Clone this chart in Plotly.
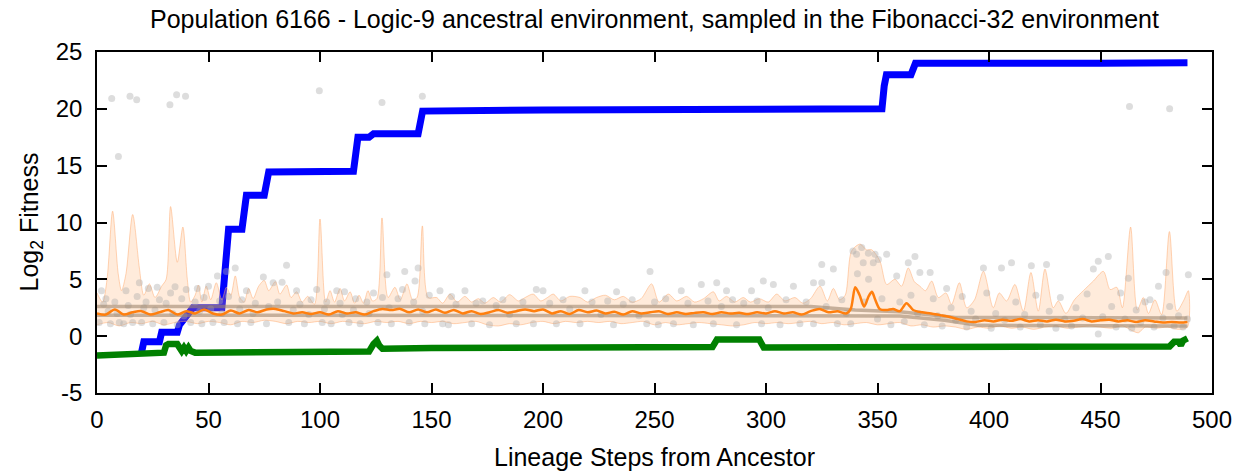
import plotly.graph_objects as go

# ---------------- data ----------------
blue_x = [19, 20, 21, 28, 29, 36, 37, 38.7, 41, 42.4, 43, 56, 57, 58, 59, 65, 66, 67, 75, 76, 77,
          115, 116, 117, 122, 124, 144, 145, 146, 200, 300, 352, 353, 354, 365, 366, 367, 450, 489]
blue_y = [-1.4, -1.4, -0.5, -0.5, 0.35, 0.35, 1.0, 1.5, 1.9, 2.35, 2.5, 2.5, 5.2, 8.5, 9.4, 9.4, 11.0, 12.4, 12.4, 13.5, 14.45,
          14.5, 16.5, 17.5, 17.5, 17.8, 17.8, 19.0, 19.8, 19.9, 20.0, 20.0, 22.0, 23.0, 23.0, 23.7, 24.0, 24.0, 24.05]

green_x = [0, 5, 10, 20, 30, 31, 32, 36, 37, 38, 39, 40, 41, 42, 44, 60, 80, 100, 122, 124, 125.5, 126.5, 128,
           150, 180, 220, 260, 276, 278, 297, 299, 350, 400, 450, 481, 483, 485, 486, 487, 489]
green_y = [-1.7, -1.65, -1.55, -1.5, -1.45, -0.8, -0.7, -0.7, -0.9, -1.3, -1.0, -1.3, -1.0, -1.3, -1.45, -1.45, -1.45, -1.4, -1.35, -0.7, -0.4, -0.8, -1.1,
           -1.05, -1.05, -1.0, -1.0, -0.95, -0.3, -0.3, -1.0, -1.0, -1.0, -1.0, -0.9, -0.5, -0.5, -0.8, -0.4, -0.2]

median_x = list(range(0, 332, 4)) + [332, 336, 338, 340, 342, 344, 346, 347.5, 349, 351, 354, 357, 360, 363, 366, 370,
                                     374, 378, 382, 386, 390, 394, 398, 402, 406, 410, 414, 418, 422, 426, 430, 434,
                                     438, 442, 446, 450, 454, 458, 462, 466, 470, 474, 478, 482, 486, 489]
median_y = [2.0, 1.9, 2.35, 1.9, 2.1, 2.2, 1.9, 2.1, 2.3, 1.9, 2.2, 2.0, 2.35, 2.0, 1.9, 2.25, 2.0, 2.3, 2.1, 2.35,
            2.4, 2.2, 2.0, 2.1, 1.95, 2.1, 1.9, 2.2, 2.0, 2.1, 1.9, 2.2, 2.4, 2.3, 2.4, 2.1, 2.35, 2.1, 2.35, 2.05,
            2.3, 2.0, 2.2, 1.95, 2.1, 2.3, 2.05, 2.2, 2.35, 2.2, 2.35, 2.0, 2.2, 1.95, 2.3, 2.1, 2.25, 2.0, 2.15, 1.9,
            2.2, 2.0, 2.1, 2.2, 1.95, 2.1, 1.95, 2.05, 2.1, 1.95, 2.1, 2.0, 2.05, 1.95, 2.1, 2.0, 2.2, 2.0, 2.1, 1.9,
            2.2, 2.4, 2.1,
            2.2, 2.0, 2.4, 4.3, 3.6, 2.6, 3.5, 3.9, 3.2, 2.4, 2.3, 2.4, 2.2, 2.9, 2.3, 2.1,
            2.0, 1.85, 1.7, 1.5, 1.3, 1.25, 1.4, 1.3, 1.45, 1.35, 1.5, 1.3, 1.4, 1.3, 1.45, 1.3,
            1.35, 1.5, 1.3, 1.4, 1.45, 1.3, 1.4, 1.25, 1.4, 1.3, 1.2, 1.25, 1.2, 1.25]

band_upper_x = [0, 2.5, 4.5, 7, 9.5, 11, 13, 16, 19, 21, 23.5, 26, 29, 31, 33, 36, 38.5, 40.5, 42, 44, 45.5, 47, 49, 51,
                53.5, 56, 58, 60, 62, 64, 66, 68, 70, 72.5, 75, 77, 80, 82, 85, 87, 89.5, 92, 94.5, 97.5, 100, 102.5,
                104.5, 106.5, 109, 111, 113.5, 115.5, 117.5, 119.5, 121.5, 123.5, 125.5, 127.8, 130.5, 133.6, 136, 139,
                141.5, 143.5, 145.9, 148.5, 152.3, 155, 158.3, 161.5, 165, 168, 171, 174, 177.7, 181, 185, 189, 192,
                195.6, 199, 202, 204.6, 208, 212, 216.6, 220, 224, 228, 232, 236, 240, 244, 248.7, 252, 256.2, 260,
                264.4, 268, 272, 276.4, 279, 282.3, 286, 289.8, 293, 297, 301, 304.8, 308.5, 313, 316.5, 320, 324.2,
                327.5, 330.2, 333, 335.5, 338.4, 342.2, 345, 347.4, 351.1, 354.1, 357.8, 360.8, 363.8, 366.5, 369,
                371.5, 374.3, 377.3, 380.7, 383.2, 386.7, 390, 393.5, 397.5, 401.9, 404.6, 407.9, 411.6, 415.4, 418.8,
                422.1, 425.1, 428.8, 431.1, 434.5, 438.3, 442.3, 446.8, 451.3, 454.3, 457.3, 459.8, 463.5, 466.5,
                469.2, 471.5, 474.4, 477.4, 480.9, 484.2, 487.2, 489.4]
band_upper_y = [3.8, 3.0, 5.0, 11.0, 5.5, 4.0, 5.5, 10.7, 6.0, 3.6, 4.6, 3.4, 4.4, 5.0, 11.4, 6.5, 9.6, 5.0, 3.0, 3.6,
                4.5, 3.0, 4.4, 3.2, 4.7, 3.2, 4.3, 3.6, 5.3, 3.4, 3.0, 4.2, 3.3, 4.4, 4.9, 4.0, 4.8, 3.7, 4.5, 3.4,
                3.9, 3.0, 3.5, 2.8, 10.3, 3.0, 4.0, 3.0, 4.2, 3.1, 3.9, 2.9, 3.6, 2.9, 4.0, 3.1, 3.3, 10.4, 3.4, 4.3,
                3.2, 4.6, 3.2, 3.4, 9.7, 3.4, 3.4, 2.9, 3.7, 3.0, 3.5, 3.0, 3.3, 2.9, 3.4, 3.0, 3.65, 3.1, 3.4, 3.7,
                3.1, 3.4, 3.7, 3.1, 3.5, 3.4, 3.0, 3.4, 3.6, 3.2, 3.5, 3.0, 3.3, 4.6, 3.0, 3.7, 3.1, 3.5, 3.0, 3.3,
                3.9, 3.1, 3.5, 3.0, 3.4, 3.0, 3.3, 3.0, 3.7, 3.1, 3.4, 2.9, 3.3, 4.4, 3.1, 4.2, 3.2, 3.6, 7.5, 8.1,
                7.6, 7.6, 6.6, 4.55, 5.0, 4.4, 6.0, 4.8, 4.4, 4.0, 4.85, 3.4, 3.8, 2.8, 4.7, 2.5, 3.2, 5.7, 2.5, 3.8,
                3.1, 4.55, 2.2, 5.6, 2.2, 5.9, 2.5, 3.1, 2.0, 3.2, 4.0, 4.85, 5.7, 4.1, 4.3, 2.5, 9.6, 2.3, 3.4, 2.0,
                3.2, 1.9, 9.2, 2.2, 3.1, 4.0]

band_lower_x = [0, 5, 10, 15, 20, 25, 30, 35, 40, 45, 50, 55, 60, 65, 70, 75, 80, 85, 90, 95, 100, 105, 110, 115, 120,
                125, 130, 135, 140, 145, 150, 155, 160, 165, 170, 175, 180, 185, 190, 195, 200, 205, 210, 215, 220,
                225, 230, 235, 240, 245, 250, 255, 260, 265, 270, 275, 280, 285, 290, 295, 300, 305, 310, 315, 320,
                325, 330, 335, 340, 345, 350, 355, 360, 365, 370, 375, 380, 385, 390, 395, 400, 405, 410, 415, 420,
                425, 430, 435, 440, 445, 450, 455, 460, 464, 467, 470, 475, 480, 485, 489]
band_lower_y = [1.0, 1.2, 0.9, 1.2, 1.1, 1.3, 1.0, 1.2, 1.3, 1.1, 1.3, 1.2, 1.0, 1.3, 1.2, 1.4, 1.3, 1.1, 1.3, 1.2,
                1.3, 1.1, 1.3, 1.2, 1.1, 1.3, 1.2, 1.3, 1.1, 1.3, 1.2, 1.3, 1.1, 1.2, 1.3, 1.0, 0.9, 1.1, 1.0, 1.2,
                1.3, 1.1, 1.3, 1.2, 1.3, 1.2, 1.3, 1.1, 1.2, 1.3, 1.0, 1.2, 1.0, 1.1, 1.2, 1.1, 1.0, 0.9, 1.0, 1.2,
                1.1, 1.2, 1.1, 1.2, 1.3, 1.1, 1.2, 1.0, 1.1, 1.2, 1.0, 1.1, 1.2, 0.9, 1.0, 0.8, 0.9, 0.8, 0.6, 0.8,
                0.7, 0.9, 0.7, 0.8, 0.6, 0.8, 0.9, 0.7, 0.8, 0.9, 0.8, 0.7, 0.9, 0.5, 0.3, 0.8, 0.7, 0.8, 0.6, 0.8]

gray_hi_x = [0, 320, 340, 360, 385, 489]
gray_hi_y = [2.6, 2.6, 2.3, 2.15, 1.65, 1.6]
gray_lo_x = [0, 330, 360, 380, 395, 489]
gray_lo_y = [1.85, 1.85, 1.78, 1.4, 0.95, 0.9]

dots_x = [1, 2, 3, 4, 5, 6, 8, 9, 10, 12, 13, 14, 15, 16, 18, 19, 20, 21, 22, 23, 25, 26, 27, 28, 30, 31, 33, 34, 35,
          36, 38, 39, 40, 42, 44, 45, 46, 47, 48, 50, 51, 52, 54, 55, 56, 57, 58, 59,
          62, 63, 64, 65, 67, 69, 70, 71, 74.6, 76, 77, 79, 81, 83, 85, 86, 88, 89.5, 91, 93, 95, 96, 98.5, 101, 102,
          103, 105, 107.5, 109, 110, 111, 113, 115, 116, 118, 121, 122, 124, 126, 128, 130, 131, 132, 135, 137, 138,
          140, 142, 142.6, 144, 146, 147, 149,
          153.8, 155, 157.6, 159, 161, 165, 168, 170, 173, 176, 179, 182, 185, 188, 191, 195.7, 197, 200, 203, 206,
          209, 212, 216.6, 218.8, 222, 226, 229, 231.6, 233, 236, 240, 243, 246.5, 248, 250, 251.7, 255, 258.5, 262,
          265, 267.4, 271, 274, 276.4, 277.9, 280, 282.3, 285, 286.8, 290, 293.5, 296, 298, 298.8, 301, 303.3, 306.3,
          309, 312.3, 315.2, 318, 321.3, 321.3, 325, 325, 327, 330.2,
          332, 334, 336, 339, 340.6, 342.9, 343.6, 345.9, 348.1, 348.9, 350.4, 354.1, 341, 346, 344, 338, 350, 352,
          356, 358.6, 360, 362, 363.8, 365, 366.8, 368, 369, 371, 373.6, 375, 377, 379, 381, 383, 385, 388, 390, 392,
          394, 397.5, 399, 401, 403, 405.6, 407, 410.1, 412, 414, 416, 419, 421, 423, 425.8, 427, 430, 432, 434, 437,
          439, 442, 444, 446.8, 449, 449, 451, 453.5, 455, 457, 459, 461, 462.5, 464, 466, 468, 470, 472.2, 474, 476,
          478, 479.4, 481, 483, 485, 487, 489.4, 489,
          6.6, 14.8, 17.8, 32.7, 35.7, 39.7, 9.6, 99.7, 127.8, 145.9, 463, 481]
dots_y = [1.2, 4.0, 2.8, 3.3, 2.2, 1.1, 3.0, 2.0, 1.2, 1.1, 4.0, 2.7, 1.9, 1.2, 3.5, 4.7, 1.2, 2.5, 3.0, 4.2, 1.1, 2.3,
          4.3, 3.2, 1.2, 2.9, 3.8, 2.0, 4.35, 1.0, 3.3, 1.8, 4.1, 1.2, 3.0, 4.2, 2.2, 1.1, 3.4, 4.4, 2.4, 1.2, 5.3,
          3.1, 2.0, 1.2, 5.7, 3.5,
          6.0, 1.1, 2.4, 3.2, 4.0, 1.2, 2.0, 2.9, 5.2, 1.1, 2.6, 4.7, 3.0, 4.75, 6.25, 1.2, 2.3, 4.0, 2.8, 1.1, 1.9,
          3.2, 4.1, 1.2, 2.4, 3.0, 1.1, 4.0, 2.9, 1.9, 3.9, 1.2, 2.3, 3.3, 1.1, 3.0, 2.0, 3.8, 1.2, 3.4, 5.4, 2.5,
          1.1, 3.3, 4.1, 5.7, 1.2, 3.0, 4.85, 6.0, 2.2, 1.1, 3.6,
          4.0, 1.1, 1.0, 3.5, 2.8, 4.0, 1.1, 2.9, 3.1, 1.0, 2.7, 3.2, 1.9, 1.1, 3.0, 1.1, 4.1, 4.0, 2.9, 1.1, 3.2,
          2.4, 1.1, 4.0, 3.0, 1.9, 3.1, 1.0, 3.9, 2.8, 3.2, 1.8, 1.1, 5.7, 3.0, 1.0, 3.3, 1.1, 4.0, 2.9, 1.0, 4.55,
          3.1, 1.1, 4.7, 2.6, 4.0, 3.2, 1.0, 2.9, 4.0, 3.1, 1.1, 4.85, 2.5, 4.55, 1.0, 3.2, 4.4, 1.1, 3.0, 4.7, 1.1,
          6.3, 4.7, 2.6, 5.9,
          1.1, 3.2, 2.0, 7.5, 7.2, 7.8, 6.45, 7.3, 6.45, 7.2, 6.75, 7.2, 5.5, 5.0, 3.0, 1.1, 1.5, 3.3, 1.0, 5.3, 3.0,
          1.3, 6.45, 3.6, 7.0, 2.0, 5.6, 1.0, 5.6, 3.3, 1.8, 0.9, 4.2, 2.5, 1.4, 3.5, 0.8, 2.2, 1.5, 6.0, 3.8, 0.7,
          2.0, 6.0, 1.4, 6.45, 3.0, 0.8, 1.9, 6.2, 3.6, 1.0, 6.3, 2.2, 0.7, 3.4, 1.5, 0.9, 2.5, 1.6, 3.7, 5.9, 6.6,
          0.2, 1.7, 7.0, 2.6, 0.8, 3.8, 1.5, 5.1, 0.7, 2.3, 1.2, 3.0, 3.2, 0.8, 4.4, 1.6, 5.6, 2.6, 0.9, 1.8, 0.8,
          5.4, 1.5,
          20.9, 21.1, 20.8, 20.35, 21.25, 21.1, 15.8, 21.6, 20.55, 21.1, 20.2, 20.0]

x_ticks = [0, 50, 100, 150, 200, 250, 300, 350, 400, 450, 500]
y_ticks = [-5, 0, 5, 10, 15, 20, 25]

TITLE = "Population 6166 - Logic-9 ancestral environment, sampled in the Fibonacci-32 environment"
X_TITLE = "Lineage Steps from Ancestor"
Y_TITLE = "Log<sub>2</sub> Fitness"
FONT = "Liberation Sans, Arial, Helvetica, sans-serif"

# ---------------- figure ----------------
fig = go.Figure()

fig.add_trace(go.Scatter(x=blue_x, y=blue_y, mode="lines",
                         line=dict(color="#0000ff", width=7), hoverinfo="skip"))
fig.add_trace(go.Scatter(x=green_x, y=green_y, mode="lines",
                         line=dict(color="#008000", width=6.5), hoverinfo="skip"))

band_x = band_upper_x + band_lower_x[::-1]
band_y = band_upper_y + band_lower_y[::-1]
fig.add_trace(go.Scatter(x=band_x, y=band_y, mode="lines", fill="toself",
                         fillcolor="rgba(255,175,110,0.25)",
                         line=dict(color="rgba(255,170,110,0.5)", width=1, shape="spline", smoothing=0.8),
                         hoverinfo="skip"))

fig.add_trace(go.Scatter(x=dots_x, y=dots_y, mode="markers",
                         marker=dict(color="rgba(170,170,170,0.40)", size=7, line=dict(width=0)),
                         hoverinfo="skip"))

fig.add_trace(go.Scatter(x=gray_hi_x, y=gray_hi_y, mode="lines",
                         line=dict(color="rgba(160,135,110,0.6)", width=3.5), hoverinfo="skip"))
fig.add_trace(go.Scatter(x=gray_lo_x, y=gray_lo_y, mode="lines",
                         line=dict(color="rgba(160,135,110,0.6)", width=3.5), hoverinfo="skip"))

fig.add_trace(go.Scatter(x=median_x, y=median_y, mode="lines",
                         line=dict(color="#ff7f0e", width=2.5, shape="spline", smoothing=0.8),
                         hoverinfo="skip"))

axis_common = dict(showline=True, linecolor="black", linewidth=1.5, mirror="ticks",
                   ticks="inside", ticklen=10, tickwidth=1.5, tickcolor="black",
                   showgrid=False, zeroline=False, automargin=False,
                   tickfont=dict(family=FONT, size=24, color="black"))

fig.update_layout(
    width=1242, height=472,
    margin=dict(l=97, r=30, t=52, b=79),
    paper_bgcolor="white", plot_bgcolor="white",
    showlegend=False,
    font=dict(family=FONT, color="black"),
    title=dict(text=TITLE, x=(97 + 1212) / 2 / 1242, xanchor="center",
               y=1 - 19 / 472, yanchor="middle", yref="container",
               font=dict(family=FONT, size=25, color="black")),
    xaxis=dict(range=[0, 500], tickvals=x_ticks, ticktext=[str(v) for v in x_ticks],
               ticklabelstandoff=4, **axis_common),
    yaxis=dict(range=[-5, 25], tickvals=y_ticks, ticktext=[str(v) for v in y_ticks],
               ticklabelstandoff=8, **axis_common),
    annotations=[
        dict(text=X_TITLE, xref="paper", yref="paper", x=0.5, y=(393 - 457) / 341,
             xanchor="center", yanchor="middle", showarrow=False,
             font=dict(family=FONT, size=25, color="black")),
        dict(text=Y_TITLE, xref="paper", yref="paper", x=(30 - 97) / 1115, y=0.5,
             xanchor="center", yanchor="middle", textangle=-90, showarrow=False,
             font=dict(family=FONT, size=25, color="black")),
    ],
)

fig.write_html("out.html")
